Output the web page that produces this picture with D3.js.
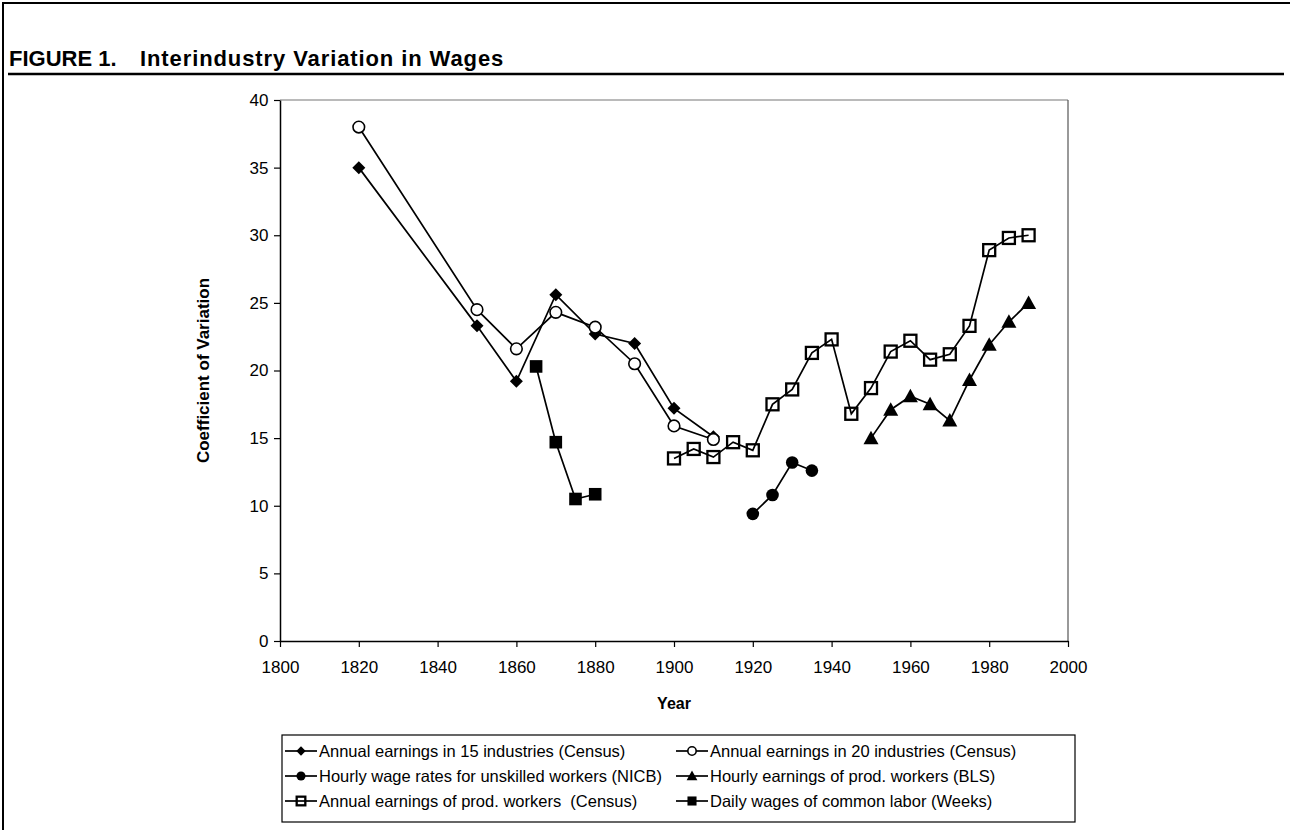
<!DOCTYPE html>
<html><head><meta charset="utf-8">
<script src="https://cdn.jsdelivr.net/npm/d3@7"></script>
<style>body{margin:0;background:#fff}svg{display:block}text{font-family:"Liberation Sans",Arial,sans-serif}</style>
</head><body><svg id="c" width="1290" height="830"></svg>
<script>
// ---- data ----
const yearsCensus = [1820,1850,1860,1870,1880,1890,1900,1910];
const census15 = [35.0,23.3,19.2,25.6,22.7,22.0,17.2,15.1];
const census20 = [38.0,24.5,21.6,24.3,23.2,20.5,15.9,14.9];
const yearsNICB = [1920,1925,1930,1935];
const nicb = [9.4,10.8,13.2,12.6];
const yearsBLS = [1950,1955,1960,1965,1970,1975,1980,1985,1990];
const bls = [15.0,17.1,18.1,17.5,16.3,19.3,21.9,23.6,25.0];
const yearsProd = [1900,1905,1910,1915,1920,1925,1930,1935,1940,1945,1950,1955,1960,1965,1970,1975,1980,1985,1990];
const prodCensus = [13.5,14.2,13.6,14.7,14.1,17.5,18.6,21.3,22.3,16.8,18.7,21.4,22.2,20.8,21.2,23.3,28.9,29.8,30.0];
const yearsDaily = [1865,1870,1875,1880];
const daily = [20.3,14.7,10.5,10.85];
const xTicks = [1800,1820,1840,1860,1880,1900,1920,1940,1960,1980,2000];
const yTicks = [0,5,10,15,20,25,30,35,40];
const seriesNames = [
  "Annual earnings in 15 industries (Census)",
  "Annual earnings in 20 industries (Census)",
  "Hourly wage rates for unskilled workers (NICB)",
  "Hourly earnings of prod. workers (BLS)",
  "Annual earnings of prod. workers  (Census)",
  "Daily wages of common labor (Weeks)"
];

const series = [
  {name: seriesNames[0], years: yearsCensus, vals: census15, m: "diamond"},
  {name: seriesNames[1], years: yearsCensus, vals: census20, m: "ocircle"},
  {name: seriesNames[2], years: yearsNICB, vals: nicb, m: "circle"},
  {name: seriesNames[3], years: yearsBLS, vals: bls, m: "triangle"},
  {name: seriesNames[4], years: yearsProd, vals: prodCensus, m: "osquare"},
  {name: seriesNames[5], years: yearsDaily, vals: daily, m: "square"}
];

const svg = d3.select("#c");
const L = 280, R = 1068, T = 100, B = 641;
const x = d3.scaleLinear().domain([1800,2000]).range([L,R]);
const y = d3.scaleLinear().domain([0,40]).range([B,T]);

// frame
svg.append("line").attr("x1",3).attr("x2",3).attr("y1",2).attr("y2",830).attr("stroke","#000").attr("stroke-width",2);
svg.append("line").attr("x1",2).attr("x2",1290).attr("y1",3).attr("y2",3).attr("stroke","#000").attr("stroke-width",2);
svg.append("text").attr("x",9).attr("y",66).attr("font-size",22).attr("font-weight","bold").text("FIGURE 1.");
svg.append("text").attr("x",140).attr("y",66).attr("font-size",22).attr("font-weight","bold")
  .attr("letter-spacing",0.9).text("Interindustry Variation in Wages");
svg.append("line").attr("x1",8).attr("x2",1284).attr("y1",74).attr("y2",74).attr("stroke","#000").attr("stroke-width",2.5);

// plot area border (top/right)
svg.append("line").attr("x1",L).attr("x2",R).attr("y1",T).attr("y2",T).attr("stroke","#777").attr("stroke-width",1.2);
svg.append("line").attr("x1",R).attr("x2",R).attr("y1",T).attr("y2",B).attr("stroke","#555").attr("stroke-width",1.2);

// axes
const gx = svg.append("g").attr("transform",`translate(0,${B})`)
  .call(d3.axisBottom(x).tickValues(xTicks).tickFormat(d3.format("d")).tickSize(6).tickSizeOuter(0));
const gy = svg.append("g").attr("transform",`translate(${L},0)`)
  .call(d3.axisLeft(y).tickValues(yTicks).tickSize(6).tickSizeOuter(0));
[gx,gy].forEach(g=>{
  g.select(".domain").attr("stroke","#000").attr("stroke-width",1.5);
  g.selectAll(".tick line").attr("stroke","#000").attr("stroke-width",1.2);
  g.selectAll(".tick text").attr("font-size",17).attr("fill","#000").attr("font-family","Liberation Sans, Arial, sans-serif");
});
gx.selectAll(".tick text").attr("dy","1.35em");
gy.selectAll(".tick text").attr("dx","-0.15em");

svg.append("text").attr("x",(L+R)/2).attr("y",709).attr("text-anchor","middle")
  .attr("font-size",16).attr("font-weight","bold").text("Year");
svg.append("text").attr("transform",`translate(209,${(T+B)/2}) rotate(-90)`).attr("text-anchor","middle")
  .attr("font-size",17).attr("font-weight","bold").text("Coefficient of Variation");

// markers
function marker(g, type, cx, cy, s) {
  s = s || 1;
  if (type === "diamond") {
    const h = 6.5*s;
    g.append("path").attr("d",`M${cx},${cy-h}L${cx+h},${cy}L${cx},${cy+h}L${cx-h},${cy}Z`).attr("fill","#000");
  } else if (type === "ocircle") {
    g.append("circle").attr("cx",cx).attr("cy",cy).attr("r",5.8*s).attr("fill","#fff").attr("stroke","#000").attr("stroke-width",1.6);
  } else if (type === "circle") {
    g.append("circle").attr("cx",cx).attr("cy",cy).attr("r",6.3*s).attr("fill","#000");
  } else if (type === "triangle") {
    const h = 7.5*s;
    g.append("path").attr("d",`M${cx},${cy-h}L${cx+h},${cy+h*0.8}L${cx-h},${cy+h*0.8}Z`).attr("fill","#000");
  } else if (type === "osquare") {
    const h = 6*s;
    g.append("rect").attr("x",cx-h).attr("y",cy-h).attr("width",2*h).attr("height",2*h)
      .attr("fill","#fff").attr("fill-opacity",0).attr("stroke","#000").attr("stroke-width",2.3);
  } else if (type === "square") {
    const h = 6.3*s;
    g.append("rect").attr("x",cx-h).attr("y",cy-h).attr("width",2*h).attr("height",2*h).attr("fill","#000");
  }
}

const line = d3.line().x(d=>x(d[0])).y(d=>y(d[1]));
series.forEach(s=>{
  const pts = s.years.map((yr,i)=>[yr,s.vals[i]]);
  const g = svg.append("g");
  g.append("path").attr("d",line(pts)).attr("fill","none").attr("stroke","#000").attr("stroke-width",1.7);
  pts.forEach(p=>marker(g, s.m, x(p[0]), y(p[1])));
});

// legend
const LX0 = 282, LX1 = 1075, LY0 = 735, LY1 = 822;
svg.append("rect").attr("x",LX0).attr("y",LY0).attr("width",LX1-LX0).attr("height",LY1-LY0)
  .attr("fill","#fff").attr("stroke","#000").attr("stroke-width",1.2);
const colX = [285, 676];
const rowY = [751, 776, 801];
series.forEach((s,i)=>{
  const cx = colX[i%2], cy = rowY[Math.floor(i/2)];
  const g = svg.append("g");
  g.append("line").attr("x1",cx).attr("x2",cx+32).attr("y1",cy).attr("y2",cy).attr("stroke","#000").attr("stroke-width",1.7);
  marker(g, s.m, cx+16, cy, 0.72);
  g.append("text").attr("x",cx+34).attr("y",cy+6).attr("font-size",16.5).attr("xml:space","preserve").text(s.name);
});
</script></body></html>
